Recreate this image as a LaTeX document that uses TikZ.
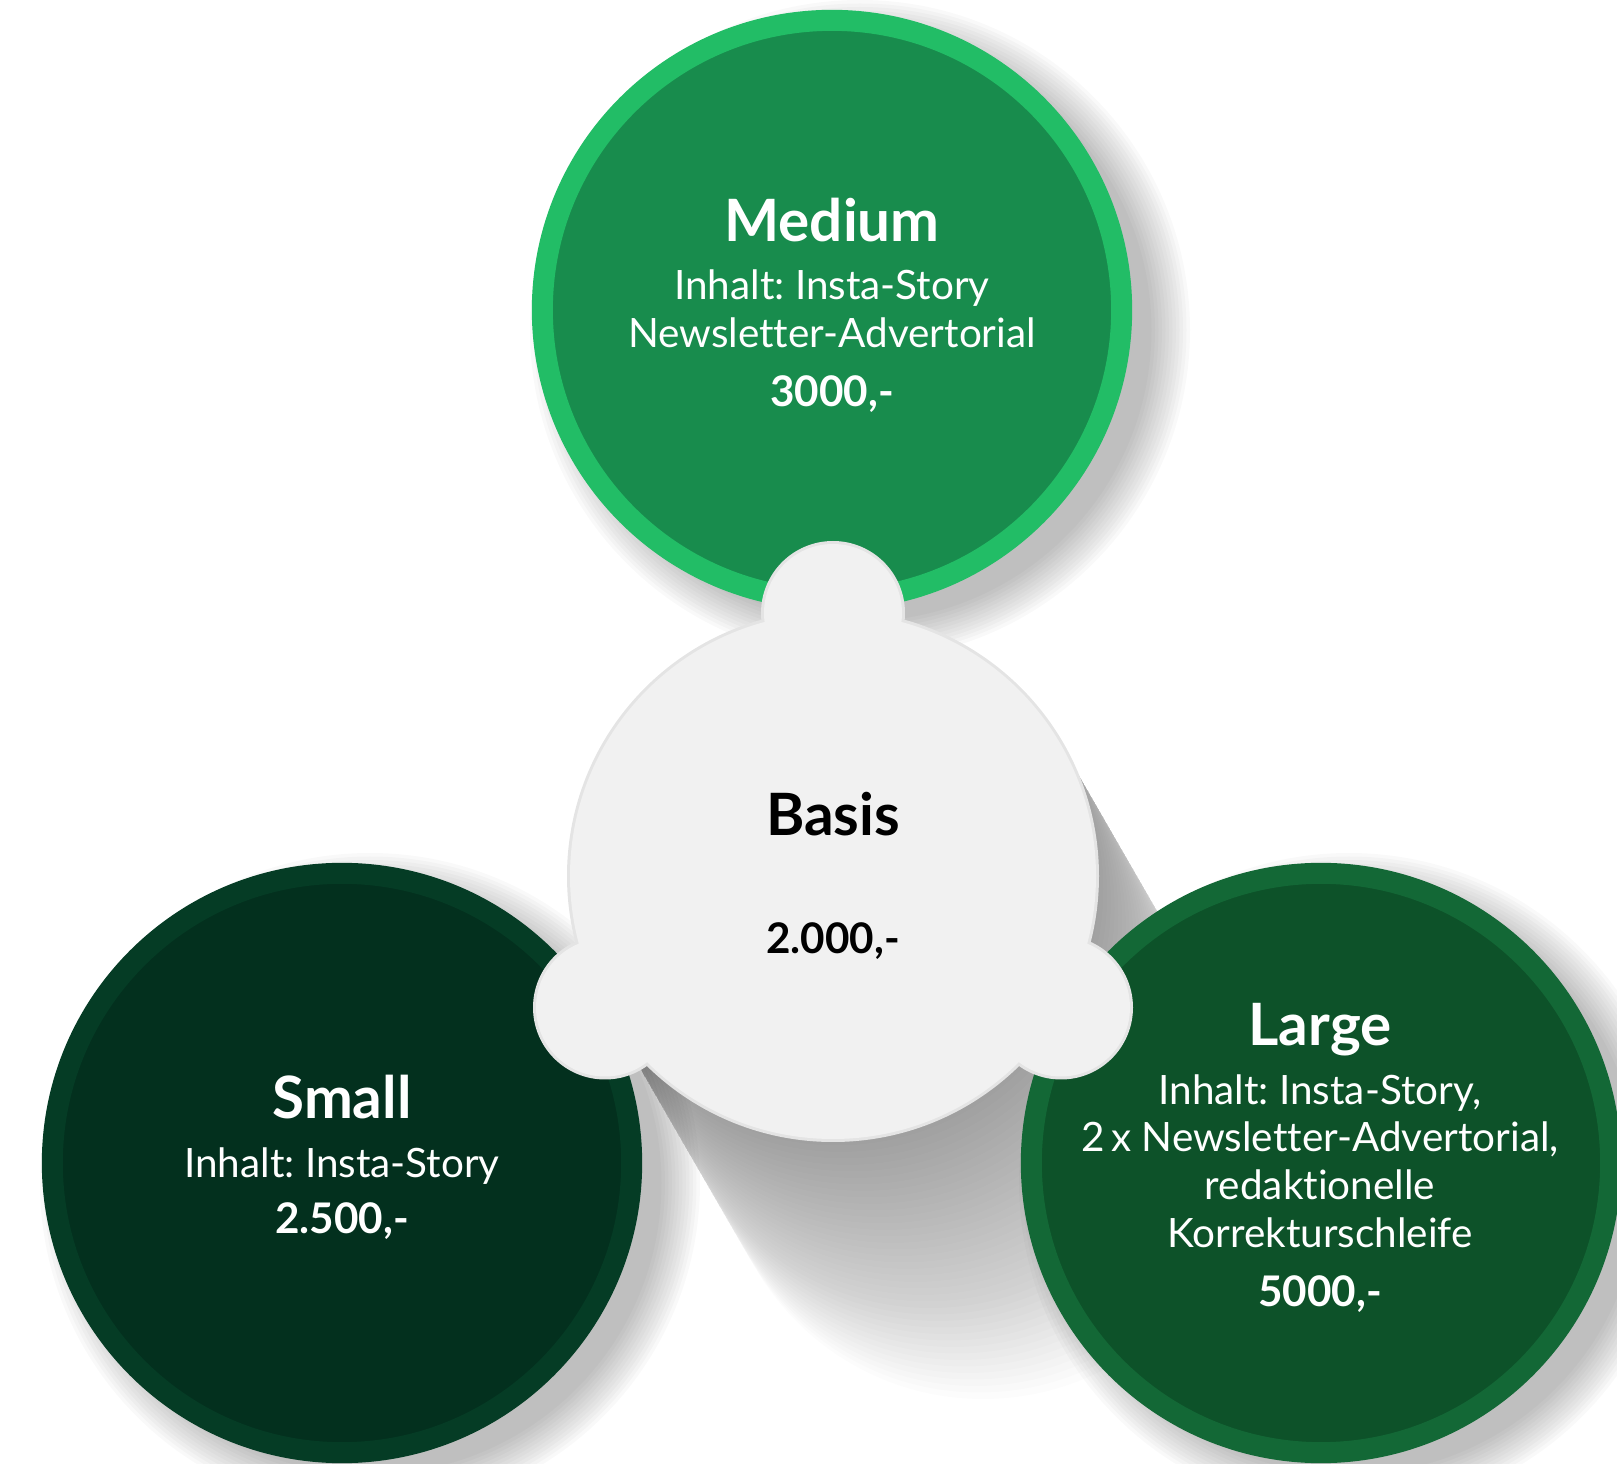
\documentclass[tikz,border=0pt]{standalone}
\usepackage{fontspec}
\setmainfont{Lato}[Ligatures=NoCommon]
\frenchspacing
\usetikzlibrary{positioning, calc}

\definecolor{mediumring}{HTML}{22BD66}
\definecolor{mediumfill}{HTML}{188C4D}
\definecolor{smallring}{HTML}{053C25}
\definecolor{smallfill}{HTML}{03301E}
\definecolor{largering}{HTML}{136836}
\definecolor{largefill}{HTML}{0D5229}
\definecolor{basisfill}{HTML}{F1F1F1}
\definecolor{basisrim}{HTML}{E4E4E4}

\tikzset{
	tier/.style={circle, draw, line width=0.21cm, minimum size=5.79cm, inner sep=0pt},
	tiername/.style={anchor=base, text=white, font=\fontsize{16.6}{20}\selectfont\bfseries},
	tierinfo/.style={anchor=base, text=white, font=\fontsize{11.5}{14}\selectfont},
	tierprice/.style={anchor=base, text=white, font=\fontsize{12}{14}\selectfont\bfseries}
}

\begin{document}
\begin{tikzpicture}[x=0.01cm, y=-0.01cm]
	\useasboundingbox (0,0) rectangle (1617,1464);
	\clip (0,0) rectangle (1617,1464);
	
	% soft shadows behind the three tiers
	\foreach \cx/\cy in {832/310, 342/1163, 1321/1163}
		\foreach \k in {1,...,12}
			\fill[black, opacity=0.024] (\cx+28,\cy+20) circle[radius=288+3.5*\k];
	
	% long shadow of the centre piece
	\coordinate (basis_center) at (833,876);
	\coordinate (shadow_right) at ($(basis_center)+(228,-131.5)$);
	\coordinate (shadow_left) at ($(basis_center)+(-228,131.5)$);
	\foreach \k in {1,...,40}
		\fill[black, opacity=0.011] (shadow_right) -- ++(3.75*\k,6.5*\k)
			-- ($(shadow_left)+(3.75*\k,6.5*\k)$) -- (shadow_left) -- cycle
			($(basis_center)+(3.75*\k,6.5*\k)$) circle[radius=263];
	
	% the three tiers
	\node[tier, draw=mediumring, fill=mediumfill] (medium) at (832,310) {};
	\node[tier, draw=smallring, fill=smallfill] (small) at (342,1163) {};
	\node[tier, draw=largering, fill=largefill] (large) at (1321,1163) {};
	
	% centre piece: rim first, then face
	\coordinate (bump_top) at ($(basis_center)+(0,-263)$);
	\coordinate (bump_left) at ($(basis_center)+(-228,131.5)$);
	\coordinate (bump_right) at ($(basis_center)+(228,131.5)$);
	\fill[basisrim] (basis_center) circle[radius=266] (bump_top) circle[radius=72]
		(bump_left) circle[radius=72] (bump_right) circle[radius=72];
	\fill[basisfill] (basis_center) circle[radius=263] (bump_top) circle[radius=69]
		(bump_left) circle[radius=69] (bump_right) circle[radius=69];
	
	% texts
	\node[tiername] (medium_name) at (832,242) {Medium};
	\node[tierinfo] (medium_info_1) at (832,300) {Inhalt: Insta-Story};
	\node[tierinfo] (medium_info_2) at (832,348) {Newsletter-Advertorial};
	\node[tierprice] (medium_price) at (832,407) {3000,-};
	
	\node[tiername, text=black] (basis_name) at (833,836) {Basis};
	\node[tierprice, text=black] (basis_price) at (833,954) {2.000,-};
	
	\node[tiername] (small_name) at (342,1119) {Small};
	\node[tierinfo] (small_info) at (342,1177) {Inhalt: Insta-Story};
	\node[tierprice] (small_price) at (342,1234) {2.500,-};
	
	\node[tiername] (large_name) at (1320,1046) {Large};
	\node[tierinfo] (large_info_1) at (1320,1104) {Inhalt: Insta-Story,};
	\node[tierinfo] (large_info_2) at (1320,1152) {2\,x Newsletter-Advertorial,};
	\node[tierinfo] (large_info_3) at (1320,1199) {redaktionelle};
	\node[tierinfo] (large_info_4) at (1320,1248) {Korrekturschleife};
	\node[tierprice] (large_price) at (1320,1306) {5000,-};
	
\end{tikzpicture}
\end{document}
